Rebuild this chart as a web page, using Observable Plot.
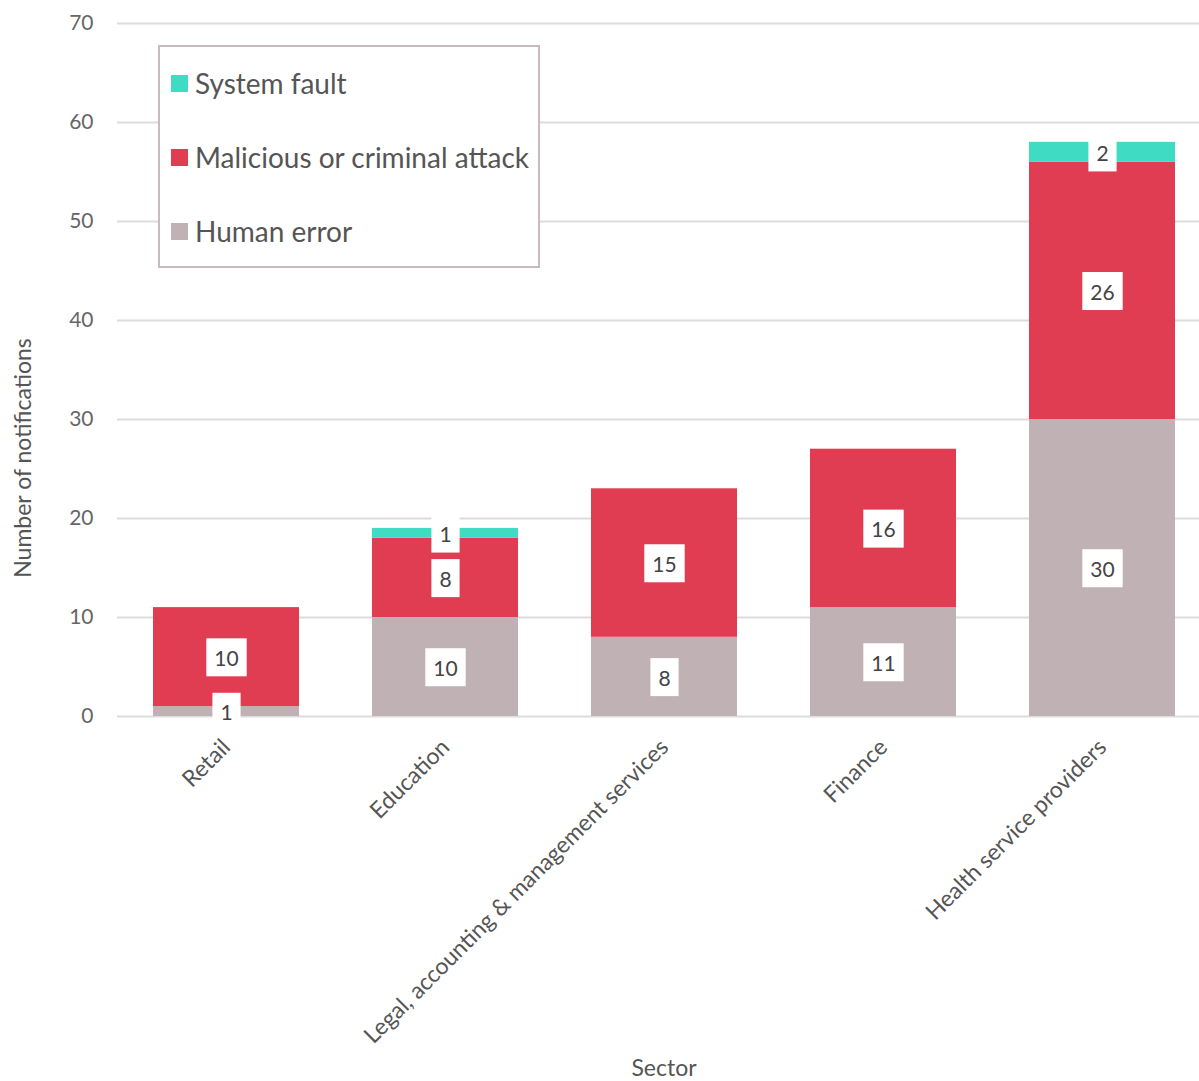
<!DOCTYPE html>
<html><head><meta charset="utf-8">
<script src="https://cdn.jsdelivr.net/npm/d3@7"></script>
<script src="https://cdn.jsdelivr.net/npm/@observablehq/plot@0.6"></script>
<style>
body{margin:0;background:#fff;}
#wrap{position:relative;width:1199px;height:1081px;font-family:Lato,sans-serif;overflow:hidden;}
#legend{position:absolute;left:158px;top:45px;width:378px;height:219px;border:2px solid #c9babe;background:#fff;}
.item{position:absolute;left:11px;height:30px;display:flex;align-items:center;font-size:28px;color:#555;white-space:nowrap;}
.sw{width:17px;height:17px;margin-right:7px;}
.ytitle{position:absolute;left:22px;top:458px;transform:translate(-50%,-50%) rotate(-90deg);font-size:23px;color:#555;white-space:nowrap;}
.xtitle{position:absolute;left:664px;top:1067px;transform:translate(-50%,-50%);font-size:23px;color:#555;white-space:nowrap;line-height:22px;}
</style></head><body><div id="wrap"></div>
<script>
const sectors = ["Retail","Education","Legal, accounting & management services","Finance","Health service providers"];
const seriesNames = ["Human error","Malicious or criminal attack","System fault"];
const humanError = [1,10,8,11,30];
const malicious = [10,8,15,16,26];
const systemFault = [0,1,0,0,2];
const colors = ["#c0b1b4","#e03d52","#3fdbc3"];
const yTicks = [0,10,20,30,40,50,60,70];
const legendOrder = ["System fault","Malicious or criminal attack","Human error"];

const seriesValues = [humanError, malicious, systemFault];
const rows = [];
seriesNames.forEach((s,i)=>{
  sectors.forEach((sec,j)=>rows.push({sector:sec, series:s, value:seriesValues[i][j]}));
});

const chart = Plot.plot({
  width:1199, height:1081,
  marginLeft:117, marginRight:0, marginTop:23, marginBottom:365,
  style:{fontFamily:"Lato, sans-serif", background:"#fff", overflow:"visible"},
  x:{domain:sectors, range:[117,1211], paddingInner:0.333, paddingOuter:0.164, label:null},
  y:{domain:[0,70], label:null},
  color:{domain:seriesNames, range:colors},
  marks:[
    Plot.gridY(yTicks,{stroke:"#dcdcdc", strokeOpacity:1, strokeWidth:2}),
    Plot.axisY(yTicks,{tickSize:0, tickPadding:24, fontSize:21, color:"#666", label:null}),
    Plot.axisX({tickSize:0, tickRotate:-45, fontSize:23, color:"#555", tickPadding:27, label:null}),
    Plot.barY(rows,{x:"sector", y:"value", fill:"series", order:seriesNames}),
    Plot.text(rows, Plot.stackY({x:"sector", y:"value", z:"series", order:seriesNames, text:"value", filter:d=>d.value>0, fontSize:21, dy:2, fill:"#444", className:"vlabels"}))
  ]
});
const wrap = document.getElementById("wrap");
wrap.appendChild(chart);

// white boxes behind value labels
chart.querySelectorAll("g.vlabels text").forEach(t=>{
  const b = t.getBBox();
  const r = document.createElementNS("http://www.w3.org/2000/svg","rect");
  const padX = 8, h = 38;
  r.setAttribute("x", b.x - padX);
  r.setAttribute("y", b.y + b.height/2 - h/2);
  r.setAttribute("width", b.width + 2*padX);
  r.setAttribute("height", h);
  r.setAttribute("fill", "#fff");
  if (t.getAttribute("transform")) r.setAttribute("transform", t.getAttribute("transform"));
  t.parentNode.insertBefore(r, t);
});

// legend
const lg = document.createElement("div");
lg.id = "legend";
legendOrder.forEach((s,i)=>{
  const it = document.createElement("div");
  it.className = "item";
  it.style.top = (21 + i*74) + "px";
  const sw = document.createElement("div");
  sw.className = "sw";
  sw.style.background = colors[seriesNames.indexOf(s)];
  const tx = document.createElement("span");
  tx.textContent = s;
  it.appendChild(sw); it.appendChild(tx);
  lg.appendChild(it);
});
wrap.appendChild(lg);

const yt = document.createElement("div"); yt.className="ytitle"; yt.textContent="Number of notifications"; wrap.appendChild(yt);
const xt = document.createElement("div"); xt.className="xtitle"; xt.textContent="Sector"; wrap.appendChild(xt);
</script></body></html>
